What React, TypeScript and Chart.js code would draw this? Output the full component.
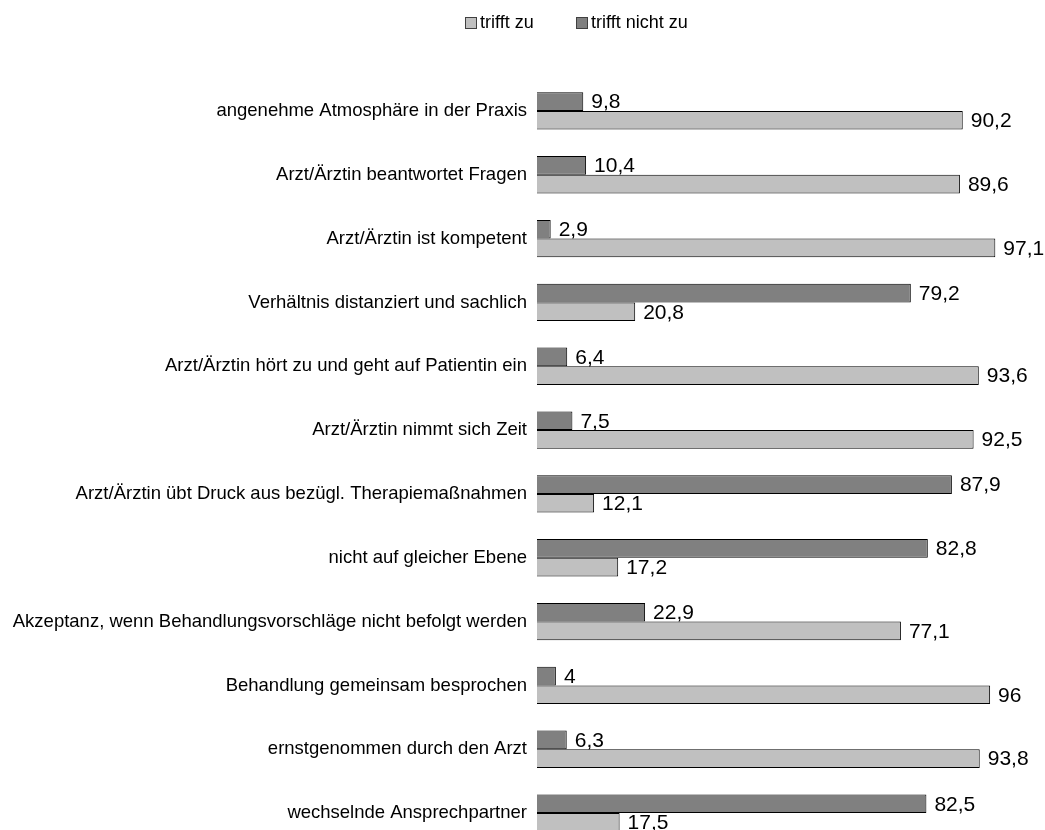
import React, { useEffect, useRef } from "react";
import { Chart, registerables } from "chart.js";

Chart.register(...registerables);

const categories = [
  "angenehme Atmosphäre in der Praxis",
  "Arzt/Ärztin beantwortet Fragen",
  "Arzt/Ärztin ist kompetent",
  "Verhältnis distanziert und sachlich",
  "Arzt/Ärztin hört zu und geht auf Patientin ein",
  "Arzt/Ärztin nimmt sich Zeit",
  "Arzt/Ärztin übt Druck aus bezügl. Therapiemaßnahmen",
  "nicht auf gleicher Ebene",
  "Akzeptanz, wenn Behandlungsvorschläge nicht befolgt werden",
  "Behandlung gemeinsam besprochen",
  "ernstgenommen durch den Arzt",
  "wechselnde Ansprechpartner",
];

const trifftNichtZu = [9.8, 10.4, 2.9, 79.2, 6.4, 7.5, 87.9, 82.8, 22.9, 4, 6.3, 82.5];
const trifftZu = [90.2, 89.6, 97.1, 20.8, 93.6, 92.5, 12.1, 17.2, 77.1, 96, 93.8, 17.5];

const legendLabels = ["trifft zu", "trifft nicht zu"];

const DARK = "#808080";
const LIGHT = "#c0c0c0";
const FONT = "'Liberation Sans', Arial, sans-serif";

export default function App() {
  const ref = useRef<HTMLCanvasElement | null>(null);

  useEffect(() => {
    if (!ref.current) return;

    const valueLabels = {
      id: "valueLabels",
      afterDatasetsDraw(chart: any) {
        const ctx = chart.ctx;
        ctx.save();
        ctx.font = `21px ${FONT}`;
        ctx.fillStyle = "#000";
        ctx.textAlign = "left";
        ctx.textBaseline = "middle";
        chart.data.datasets.forEach((ds: any, di: number) => {
          const meta = chart.getDatasetMeta(di);
          meta.data.forEach((bar: any, i: number) => {
            const v = ds.data[i];
            const txt = String(v).replace(".", ",");
            ctx.fillText(txt, bar.x + 8, bar.y + 1);
          });
        });
        ctx.restore();
      },
    };

    const customLegend = {
      id: "customLegend",
      afterDraw(chart: any) {
        const ctx = chart.ctx;
        ctx.save();
        ctx.font = `18px ${FONT}`;
        ctx.textAlign = "left";
        ctx.textBaseline = "middle";
        const items = [
          { text: legendLabels[0], color: LIGHT, x: 457 },
          { text: legendLabels[1], color: DARK, x: 568 },
        ];
        items.forEach((it) => {
          ctx.fillStyle = it.color;
          ctx.fillRect(it.x, 9, 11, 11);
          ctx.strokeStyle = "#404040";
          ctx.lineWidth = 1;
          ctx.strokeRect(it.x + 0.5, 9.5, 11, 11);
          ctx.fillStyle = "#000";
          ctx.fillText(it.text, it.x + 15, 15);
        });
        ctx.restore();
      },
    };

    const chart = new Chart(ref.current, {
      type: "bar",
      data: {
        labels: categories,
        datasets: [
          {
            label: legendLabels[1],
            data: trifftNichtZu,
            backgroundColor: DARK,
            borderColor: "#000",
            borderWidth: 1,
            barPercentage: 1,
            categoryPercentage: 0.585,
          },
          {
            label: legendLabels[0],
            data: trifftZu,
            backgroundColor: LIGHT,
            borderColor: "#000",
            borderWidth: 1,
            barPercentage: 1,
            categoryPercentage: 0.585,
          },
        ],
      },
      options: {
        indexAxis: "y",
        responsive: false,
        animation: false,
        layout: { padding: { top: 71, right: 36, bottom: 33, left: 0 } },
        plugins: {
          legend: { display: false },
          tooltip: { enabled: false },
        },
        scales: {
          x: { display: false, min: 0, max: 100 },
          y: {
            grid: { display: false, drawTicks: false },
            border: { display: false },
            ticks: {
              padding: 10,
              color: "#000",
              font: { family: FONT, size: 18.5 },
            },
            afterFit(scale: any) {
              scale.width = 529;
            },
          },
        },
      },
      plugins: [valueLabels, customLegend],
    });

    return () => chart.destroy();
  }, []);

  return (
    <div style={{ position: "fixed", left: 8, top: 8, width: 1037, height: 822, overflow: "hidden" }}>
      <canvas ref={ref} width={1037} height={870} style={{ width: 1037, height: 870, display: "block" }} />
    </div>
  );
}
